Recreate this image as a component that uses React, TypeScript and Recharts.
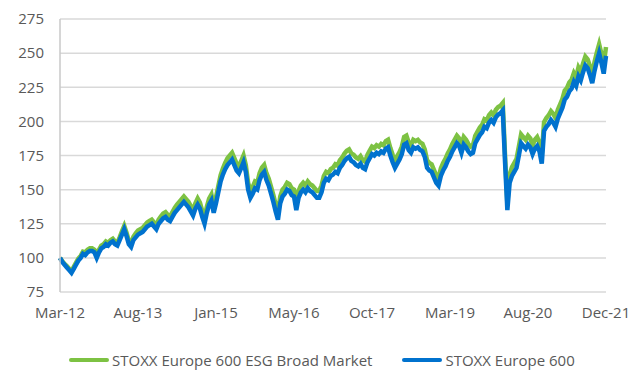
import {
  LineChart,
  Line,
  XAxis,
  YAxis,
  CartesianGrid,
  Legend,
} from "recharts"

const tickLabels = [
  "Mar-12",
  "Aug-13",
  "Jan-15",
  "May-16",
  "Oct-17",
  "Mar-19",
  "Aug-20",
  "Dec-21",
]

const yTicks = [75, 100, 125, 150, 175, 200, 225, 250, 275]

const seriesNames = ["STOXX Europe 600 ESG Broad Market", "STOXX Europe 600"]

// STOXX Europe 600 ESG Broad Market, roughly twice a month
const esgBroad = [
  100, 97.5, 95.5, 94, 92, 90, 93.5, 96.5, 99.5, 101.5,
  104.5, 104, 106, 107, 107, 106, 102, 106, 109, 110,
  112, 111, 113, 114, 112, 111, 115, 119.5, 123.5, 118.5,
  112.5, 110.5, 115.5, 118, 120, 121, 122, 124, 126, 127,
  128, 126, 124, 128, 130.5, 132.5, 133.5, 131.5, 130.5, 133.5,
  136.5, 139, 141, 143, 145, 143, 141, 138, 135, 140,
  143.5, 140.5, 134.5, 129.5, 137.5, 143.5, 146.5, 137.5, 144.5, 152.5,
  160.5, 165.5, 169.5, 173, 175, 177, 173, 169, 167, 171,
  175, 168, 155, 149, 152, 156, 155, 162, 166, 168,
  162, 158, 152, 146, 139, 133, 145, 150, 152, 155,
  154, 151, 150, 140, 149, 153, 155, 153, 156, 154,
  153, 151, 149, 149, 153, 160, 163, 162, 165, 166,
  168.5, 167.5, 171.5, 173.5, 176.5, 178.5, 179.5, 176.5, 175.5, 173.5,
  172.5, 174.5, 171.5, 170.5, 175.5, 178.5, 181.5, 180.5, 182.5, 181.5,
  183.5, 182.5, 185.5, 186.5, 180.5, 175.5, 171.5, 174.5, 177.5, 181.5,
  188.5, 189.5, 184.5, 182.5, 186.5, 185.5, 186.5, 184.5, 183.5, 179.5,
  171.5, 169.5, 168.5, 164.5, 160.5, 158.5, 165.5, 169.5, 172.5, 176.5,
  179.5, 183.5, 186.5, 189.5, 187.5, 182.5, 188.5, 186.5, 183.5, 181.5,
  182.5, 189.5, 192.5, 195.5, 197.5, 201.5, 200.5, 204.5, 206.5, 204.5,
  208.5, 210.5, 211.5, 213.5, 175, 140, 161, 166.5, 169.5, 172.5,
  181.5, 190.5, 188.5, 186.5, 189.5, 187.5, 182.5, 186.5, 188.5, 184.5,
  175.5, 199.5, 202.5, 204.5, 207.5, 205.5, 202.5, 208.5, 212.5, 216.5,
  222.5, 224.5, 228.5, 230.5, 235.5, 232.5, 239.5, 236.5, 242.5, 247.5,
  245.5, 240.5, 234.5, 243.5, 250.5, 256.5, 249.5, 241.5, 254.5,
]

// STOXX Europe 600, roughly twice a month
const stoxx600 = [
  100, 97, 95, 93, 91, 89, 92, 95, 98, 100,
  103, 102, 104, 105, 105, 104, 100, 104, 107, 108,
  110, 109, 111, 112, 110, 109, 113, 117, 121, 116,
  110, 108, 113, 115, 117, 118, 119, 121, 123, 124,
  125, 123, 121, 125, 127, 129, 130, 128, 127, 130,
  133, 135, 137, 139, 141, 139, 137, 134, 131, 136,
  139, 136, 130, 125, 133, 139, 142, 133, 140, 148,
  156, 161, 165, 168, 170, 172, 168, 164, 162, 166,
  170, 163, 150, 144, 147, 151, 150, 157, 161, 163,
  157, 153, 147, 141, 134, 128, 140, 145, 147, 150,
  149, 146, 145, 135, 144, 148, 150, 148, 151, 149,
  148, 146, 144, 144, 148, 155, 158, 157, 160, 161,
  163, 162, 166, 168, 171, 173, 174, 171, 170, 168,
  167, 169, 166, 165, 170, 173, 176, 175, 177, 176,
  178, 177, 180, 181, 175, 170, 166, 169, 172, 176,
  183, 184, 179, 177, 181, 180, 181, 179, 178, 174,
  166, 164, 163, 159, 155, 153, 160, 164, 167, 171,
  174, 178, 181, 184, 182, 177, 183, 181, 178, 176,
  177, 184, 187, 190, 192, 196, 195, 199, 201, 199,
  203, 205, 206, 208, 170, 135, 155, 160, 163, 166,
  175, 184, 182, 180, 183, 181, 176, 180, 182, 178,
  169, 193, 196, 198, 201, 199, 196, 202, 206, 210,
  216, 218, 222, 224, 229, 226, 233, 230, 236, 241,
  239, 234, 228, 237, 244, 250, 243, 235, 248,
]

const GREEN = "#7dc243"
const BLUE = "#0072ce"
const colors = [GREEN, BLUE]

const data = stoxx600.map((v, i) => ({
  i,
  esg: esgBroad[i],
  stoxx: v,
}))

const step = (data.length - 1) / (tickLabels.length - 1)
const xTicks = tickLabels.map((_, k) => k * step)

function renderLegend() {
  return (
    <div style={{ display: "flex", alignItems: "center" }}>
      {seriesNames.map((name, k) => (
        <div
          key={name}
          style={{
            display: "flex",
            alignItems: "center",
            marginRight: k === 0 ? 30 : 0,
          }}
        >
          <span
            style={{
              display: "inline-block",
              width: 40,
              height: 4,
              borderRadius: 2,
              background: colors[k],
            }}
          />
          <span style={{ marginLeft: 3, color: "#595959", fontSize: 15 }}>
            {name}
          </span>
        </div>
      ))}
    </div>
  )
}

export default function App() {
  return (
    <div style={{ margin: -8, fontFamily: "'Open Sans', sans-serif" }}>
      <LineChart
        width={643}
        height={391}
        data={data}
        margin={{ top: 19, right: 37, left: 0, bottom: 69 }}
      >
        <CartesianGrid vertical={false} stroke="#d9d9d9" strokeWidth={1.5} />
        <XAxis
          dataKey="i"
          type="number"
          domain={[0, data.length - 1]}
          ticks={xTicks}
          tickFormatter={(v: number) => tickLabels[Math.round(v / step)]}
          axisLine={false}
          tickLine={false}
          tickSize={6}
          tickMargin={9}
          interval={0}
          tick={{ fontSize: 15, fill: "#595959" }}
        />
        <YAxis
          width={60}
          domain={[75, 275]}
          ticks={yTicks}
          interval={0}
          axisLine={{ stroke: "#c8c8c8", strokeWidth: 1.5 }}
          tickLine={false}
          tickSize={6}
          tickMargin={10}
          tick={{ fontSize: 15, fill: "#595959" }}
        />
        <Legend
          layout="horizontal"
          verticalAlign="middle"
          align="center"
          wrapperStyle={{ left: 69, top: 350, width: 574 }}
          content={renderLegend}
        />
        <Line
          type="linear"
          dataKey="esg"
          name={seriesNames[0]}
          stroke={GREEN}
          strokeWidth={4.5}
          dot={false}
          isAnimationActive={false}
        />
        <Line
          type="linear"
          dataKey="stoxx"
          name={seriesNames[1]}
          stroke={BLUE}
          strokeWidth={4.5}
          dot={false}
          isAnimationActive={false}
        />
      </LineChart>
    </div>
  )
}
